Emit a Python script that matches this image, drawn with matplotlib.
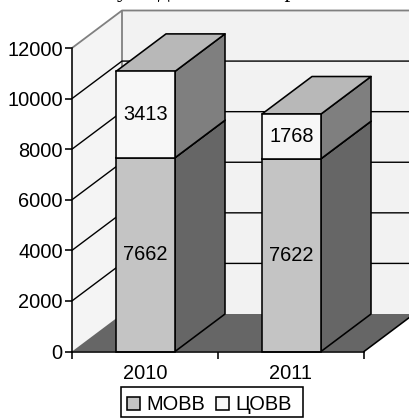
import matplotlib
matplotlib.use('Agg')
from matplotlib import pyplot as plt
from matplotlib.patches import Polygon, Rectangle

years = ['2010', '2011']
tick_values = [0, 2000, 4000, 6000, 8000, 10000, 12000]
mobb = [7662, 7622]
cobb = [3413, 1768]
series_names = ['МОВВ', 'ЦОВВ']
title = 'у надлежности органа'

W, H = 409, 418
ax_left, ax_right, ax_top, ax_bottom = 72, 364, 48, 351.5
# depth of the 3d box, in data units
depth_x = 50 / 146
depth_y = 37.5 / (ax_bottom - ax_top) * 12000
bar_width = 59 / 146
bar_offset = 44 / 146
label_size = 14.4
edge_lw = 1.15


def side_polys(x0, x1, y0, y1):
    right = [(x1, y0), (x1 + depth_x, y0 + depth_y), (x1 + depth_x, y1 + depth_y), (x1, y1)]
    top = [(x0, y1), (x0 + depth_x, y1 + depth_y), (x1 + depth_x, y1 + depth_y), (x1, y1)]
    return right, top


def draw_segment(ax, x, y0, y1, front, side, cap):
    x1 = x + bar_width
    right, top = side_polys(x, x1, y0, y1)
    ax.add_patch(Polygon(right, fc=side, ec='k', lw=edge_lw, joinstyle='round', clip_on=False, zorder=5))
    ax.add_patch(Polygon(top, fc=cap, ec='k', lw=edge_lw, joinstyle='round', clip_on=False, zorder=5))
    ax.add_patch(Rectangle((x, y0), bar_width, y1 - y0, fc=front, ec='k', lw=edge_lw, clip_on=False, zorder=6))


def main():
    plt.rcParams['font.family'] = ['Liberation Sans', 'DejaVu Sans']
    fig = plt.figure(figsize=(W / 100, H / 100), dpi=100, facecolor='white')
    ax = fig.add_axes([ax_left / W, 1 - ax_bottom / H, (ax_right - ax_left) / W, (ax_bottom - ax_top) / H])
    ax.set_xlim(0, 2)
    ax.set_ylim(0, 12000)
    ax.patch.set_visible(False)
    for name in ['top', 'right']:
        ax.spines[name].set_visible(False)
    for name in ['left', 'bottom']:
        ax.spines[name].set_linewidth(edge_lw)
        ax.spines[name].set_zorder(7)

    # walls and floor
    ymax = 12000
    ax.add_patch(Polygon([(depth_x, depth_y), (2 + depth_x, depth_y), (2 + depth_x, ymax + depth_y), (depth_x, ymax + depth_y)],
                         fc='#f2f2f2', ec='none', clip_on=False, zorder=1))
    ax.add_patch(Polygon([(0, 0), (depth_x, depth_y), (depth_x, ymax + depth_y), (0, ymax)],
                         fc='#f4f4f4', ec='none', clip_on=False, zorder=1))
    ax.add_patch(Polygon([(0, 0), (2, 0), (2 + depth_x, depth_y), (depth_x, depth_y)],
                         fc='#666666', ec='none', clip_on=False, zorder=2))
    ax.plot([0, depth_x, 2 + depth_x], [ymax, ymax + depth_y, ymax + depth_y], color='#808080', lw=1.3, clip_on=False, zorder=3)
    ax.plot([depth_x, depth_x], [depth_y, ymax + depth_y], color='#808080', lw=1.3, clip_on=False, zorder=3)
    ax.plot([2, 2 + depth_x], [0, depth_y], color='k', lw=edge_lw, clip_on=False, zorder=3)

    # gridlines run along the side wall and across the back
    for v in tick_values[1:-1]:
        ax.plot([0, depth_x, 2 + depth_x], [v, v + depth_y, v + depth_y], color='k', lw=1.0, clip_on=False, zorder=3)

    # stacked boxes
    for i in range(len(years)):
        x = i + bar_offset
        draw_segment(ax, x, 0, mobb[i], '#c4c4c4', '#666666', '#a0a0a0')
        draw_segment(ax, x, mobb[i], mobb[i] + cobb[i], '#f7f7f7', '#7f7f7f', '#b8b8b8')
        ax.text(x + bar_width / 2, mobb[i] / 2, str(mobb[i]), ha='center', va='center', fontsize=label_size, zorder=8)
        ax.text(x + bar_width / 2, mobb[i] + cobb[i] / 2, str(cobb[i]), ha='center', va='center', fontsize=label_size, zorder=8)

    ax.set_yticks(tick_values)
    ax.set_xticks([0, 1, 2])
    ax.set_xticklabels([])
    ax.tick_params(axis='both', length=4.7, width=edge_lw, labelsize=label_size, pad=2)
    for i, year in enumerate(years):
        ax.text(i + 0.5, -860, year, ha='center', va='center', fontsize=label_size)

    # title baseline sits right at the top edge
    fig.text(117 / W, 1 + 2.5 / H, title, ha='left', va='baseline', fontsize=17, family='Liberation Serif')

    # legend box
    fig.add_artist(Rectangle((121 / W, 1 - 417 / H), 182 / W, 30 / H, fc='white', ec='k', lw=edge_lw, transform=fig.transFigure))
    for name, color, sx, tx in zip(series_names, ['#c4c4c4', '#f7f7f7'], [127, 216], [146, 235]):
        fig.add_artist(Rectangle((sx / W, 1 - 410 / H), 13 / W, 13 / H, fc=color, ec='k', lw=edge_lw, transform=fig.transFigure))
        fig.text(tx / W, 1 - 404 / H, name, ha='left', va='center', fontsize=label_size)

    fig.savefig('out.png', dpi=100)


if __name__ == '__main__':
    main()
